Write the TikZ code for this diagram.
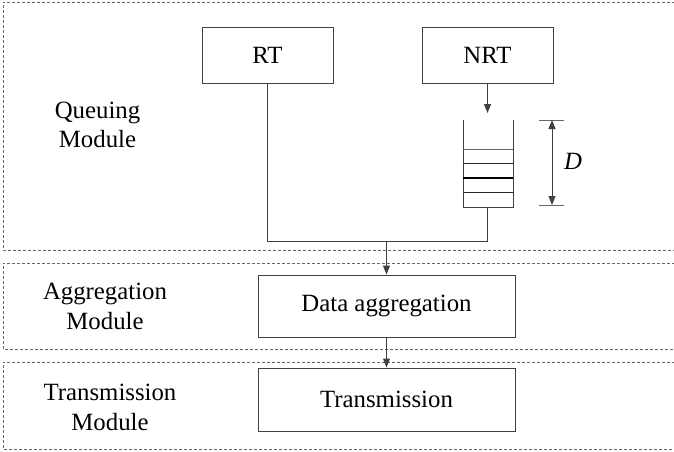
\documentclass[tikz,border=0pt]{standalone}
\usepackage{fontspec}
\setmainfont{Liberation Serif}
\usetikzlibrary{arrows.meta}
\begin{document}
\begin{tikzpicture}[x=1pt,y=-1pt,
  txt/.style={font=\fontsize{24.8}{29.5}\selectfont},
  box/.style={txt,draw=black!75,line width=1pt,minimum width=131pt,minimum height=56pt,inner sep=0pt},
  lbl/.style={txt,align=center,inner sep=0pt},
  modframe/.style={draw=black!60,dash pattern=on 3pt off 2pt,line width=0.9pt},
  conn/.style={draw=black!75,line width=1pt},
  tip/.tip={Triangle[length=9pt,width=7pt]},
  arr/.style={conn,-tip}]
\useasboundingbox (0,0) rectangle (674,451);
% module frames
\draw[modframe] (690,2) -- (3,2) -- (3,250) -- (690,250);
\draw[modframe] (690,263) -- (3,263) -- (3,349) -- (690,349);
\draw[modframe] (690,362) -- (3,362) -- (3,449) -- (690,449);
% labels
\node[lbl] (ql) at (97.5,125) {Queuing\\Module};
\node[lbl] (al) at (105,306.5) {Aggregation\\Module};
\node[lbl] (tl) at (110,407.5) {Transmission\\Module};
% boxes
\node[box] (rt) at (267.5,55) {RT};
\node[box] (nrt) at (487.5,55) {NRT};
\node[box,minimum width=257pt,minimum height=62pt] (agg) at (386.5,306) {Data aggregation};
\node[box,minimum width=257pt,minimum height=63pt] (tx) at (386.5,399.5) {Transmission};
% queue
\coordinate (qin) at (487.5,113);
\coordinate (qout) at (487.5,207);
\coordinate (join) at (386.5,241);
\draw[conn] (463,120) -- (463,207) -- (513,207) -- (513,120);
\draw[conn,draw=black!60] (463,149) -- (513,149);
\draw[conn,draw=black!85] (463,163) -- (513,163);
\draw[conn,draw=black,line width=1.5pt] (463,178) -- (513,178);
\draw[conn,draw=black!85] (463,192) -- (513,192);
% connectors
\draw[arr] (nrt.south) -- (qin);
\draw[conn] (rt.south) -- (rt.south |- join) -- (qout |- join) -- (qout);
\draw[arr] (join) -- (agg.north);
\draw[arr] (agg.south) -- (tx.north);
% D dimension
\coordinate (dtop) at (552,120);
\coordinate (dbot) at (552,205);
\draw[conn,draw=black!60] (539,120) -- (564,120);
\draw[conn,draw=black!60] (539,205) -- (564,205);
\draw[conn,tip-tip] (dtop) -- (dbot);
\node[txt,font=\fontsize{24.8}{29.5}\selectfont\itshape,inner sep=0pt] (d) at (573,161) {D};
\end{tikzpicture}
\end{document}
